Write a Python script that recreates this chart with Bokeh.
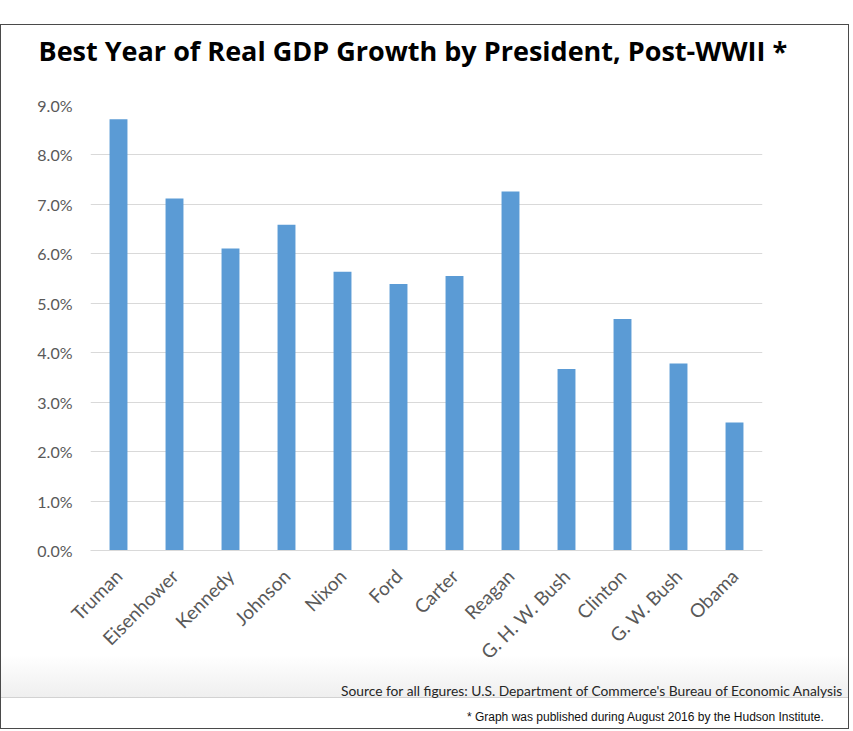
from math import pi
from bokeh.plotting import figure
from bokeh.models import (ColumnDataSource, FactorRange, Range1d, FixedTicker,
                          PrintfTickFormatter, Spacer, Title)
from bokeh.layouts import column
from bokeh.embed import file_html
from bokeh.resources import INLINE

# ---- data ----
presidents = ["Truman", "Eisenhower", "Kennedy", "Johnson", "Nixon", "Ford",
              "Carter", "Reagan", "G. H. W. Bush", "Clinton", "G. W. Bush", "Obama"]
growth = [8.72, 7.12, 6.11, 6.59, 5.64, 5.39, 5.55, 7.26, 3.67, 4.68, 3.78, 2.59]
y_ticks = [0, 1, 2, 3, 4, 5, 6, 7, 8, 9]
title_text = "Best Year of Real GDP Growth by President, Post-WWII *"
source_text = "Source for all figures: U.S. Department of Commerce's Bureau of Economic Analysis"
footnote_text = "* Graph was published during August 2016 by the Hudson Institute."

BAR = "#5B9BD5"
GRID = "#D9D9D9"
TICK = "#595959"
FONT = "Lato"
EDGE = "1px solid #4a4a4a"
W = 847
HEAD_H = 46
H = 657

# ---- header strip carrying the title ----
head = figure(width=W, height=HEAD_H, x_range=Range1d(0, 1), y_range=Range1d(0, 1),
              output_backend="svg", toolbar_location=None,
              x_axis_location=None, y_axis_location=None,
              min_border_left=89, min_border_right=88,
              min_border_top=HEAD_H - 1, min_border_bottom=0)
head.grid.grid_line_color = None
head.outline_line_color = None
head.background_fill_color = "white"
head.border_fill_color = "white"
head.title.text = title_text
head.title.align = "left"
head.title.offset = -52
head.title.text_font = "Open Sans"
head.title.text_font_style = "bold"
head.title.text_font_size = "27px"
head.title.text_color = "black"
head.title.standoff = 4
head.styles = {"border-top": EDGE, "border-left": EDGE, "border-right": EDGE,
               "box-sizing": "content-box"}

# ---- chart ----
src = ColumnDataSource(data=dict(president=presidents, growth=growth))
p = figure(width=W, height=H,
           x_range=FactorRange(factors=presidents, range_padding=0),
           y_range=Range1d(0, 9),
           output_backend="svg", toolbar_location=None, title_location=None,
           min_border_left=89, min_border_right=88,
           min_border_top=34, min_border_bottom=179)

p.vbar(x="president", top="growth", width=0.32, source=src,
       fill_color=BAR, line_color=None)

p.yaxis.ticker = FixedTicker(ticks=y_ticks)
p.yaxis.formatter = PrintfTickFormatter(format="%.1f%%")
p.yaxis.axis_line_color = None
p.yaxis.major_tick_line_color = None
p.yaxis.minor_tick_line_color = None
p.yaxis.major_tick_out = 0
p.yaxis.minor_tick_out = 0
p.yaxis.major_label_text_font = FONT
p.yaxis.major_label_text_font_size = "16px"
p.yaxis.major_label_text_color = TICK
p.yaxis.major_label_standoff = 18

p.xaxis.major_label_orientation = pi / 4
p.xaxis.axis_line_color = GRID
p.xaxis.major_tick_line_color = None
p.xaxis.minor_tick_line_color = None
p.xaxis.major_tick_out = 0
p.xaxis.minor_tick_out = 0
p.xaxis.major_label_text_font = FONT
p.xaxis.major_label_text_font_size = "19px"
p.xaxis.major_label_text_color = TICK
p.xaxis.major_label_standoff = 22

p.add_layout(Title(text=source_text, align="right", offset=-81, standoff=10,
                   text_font=FONT, text_font_style="normal",
                   text_font_size="13.8px", text_color="#262626"), "below")
p.add_layout(Title(text=footnote_text, align="right", offset=-62, standoff=8,
                   text_font="Liberation Sans", text_font_style="normal",
                   text_font_size="12px", text_color="#111111"), "below")

p.xgrid.grid_line_color = None
p.ygrid.grid_line_color = GRID
p.outline_line_color = None
p.background_fill_color = "white"
p.border_fill_color = None
p.styles = {
    "border-left": EDGE, "border-right": EDGE, "border-bottom": EDGE,
    "box-sizing": "content-box",
    "background": ("linear-gradient(to bottom, #ffffff 0px, #ffffff 584px, "
                   "#efefef 626px, #d2d2d2 626px, #d2d2d2 627px, "
                   "#ffffff 627px, #ffffff 100%)"),
}

layout = column(Spacer(height=24), head, p)

open("out.html", "w").write(file_html(layout, INLINE))
